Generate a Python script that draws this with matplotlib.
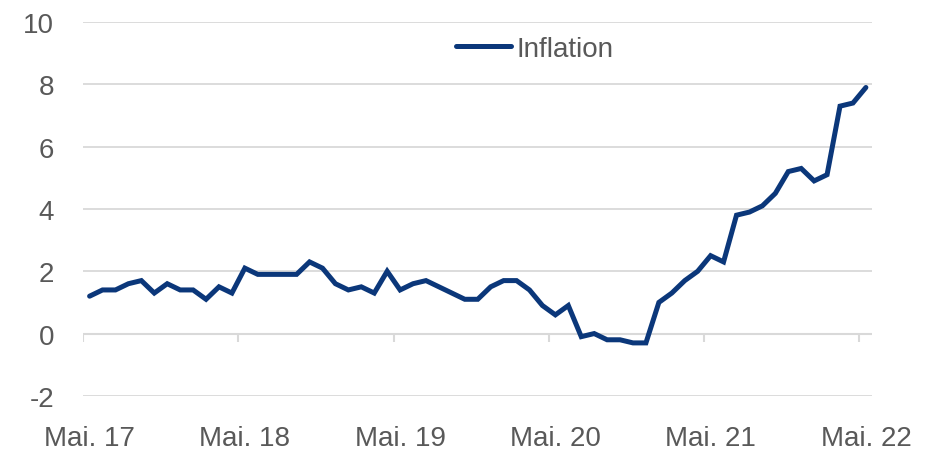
import matplotlib
matplotlib.use("Agg")
import matplotlib.pyplot as plt
import numpy as np

# German CPI, yoy %, May 2017 - May 2022 (monthly)
inflation = [1.2, 1.4, 1.4, 1.6, 1.7, 1.3, 1.6, 1.4, 1.4, 1.1, 1.5, 1.3,
             2.1, 1.9, 1.9, 1.9, 1.9, 2.3, 2.1, 1.6, 1.4, 1.5, 1.3, 2.0,
             1.4, 1.6, 1.7, 1.5, 1.3, 1.1, 1.1, 1.5, 1.7, 1.7, 1.4, 0.9,
             0.6, 0.9, -0.1, 0.0, -0.2, -0.2, -0.3, -0.3, 1.0, 1.3, 1.7, 2.0,
             2.5, 2.3, 3.8, 3.9, 4.1, 4.5, 5.2, 5.3, 4.9, 5.1, 7.3, 7.4, 7.9]
tick_labels = ["Mai. 17", "Mai. 18", "Mai. 19", "Mai. 20", "Mai. 21", "Mai. 22"]
y_ticks = [-2, 0, 2, 4, 6, 8, 10]

months = np.arange(len(inflation))
navy = "#0b377a"
grey_txt = "#595959"
grid_col = "#d9d9d9"
fam = ["Liberation Sans", "DejaVu Sans"]
fs = 20

fig = plt.figure(figsize=(9.34, 4.52), dpi=100)
ax = fig.add_axes([0.089, 0.122, 0.845, 0.827])

ax.plot(months, inflation, color=navy, lw=3.6, solid_joinstyle="miter",
        solid_capstyle="round", label="Inflation", zorder=3)

ax.set_xlim(-0.5, 60.5)
ax.set_ylim(-2, 10)
ax.set_yticks(y_ticks)
ax.set_yticklabels([str(v) for v in y_ticks], fontsize=fs, color=grey_txt, family=fam)
ax.set_xticks(months[::12])
ax.set_xticklabels(tick_labels, fontsize=fs, color=grey_txt, family=fam)
ax.tick_params(axis="both", length=0)
ax.tick_params(axis="y", pad=21)
ax.tick_params(axis="x", pad=21)

for v in y_ticks:
    if v != 0:
        ax.axhline(v, color=grid_col, lw=1.3, zorder=1)
ax.axhline(0, color=grid_col, lw=1.5, zorder=2)
# category boundary tick marks on the zero line
ax.vlines(months[::12] - 0.5, -0.27, 0, color=grid_col, lw=1.5, zorder=2)

for s in ax.spines.values():
    s.set_visible(False)

leg = ax.legend(loc="center", bbox_to_anchor=(0.572, 0.928), frameon=False,
                handlelength=2.0, handletextpad=0.2,
                prop={"family": fam, "size": fs})
for t in leg.get_texts():
    t.set_color(grey_txt)

fig.savefig("out.png", dpi=100)
